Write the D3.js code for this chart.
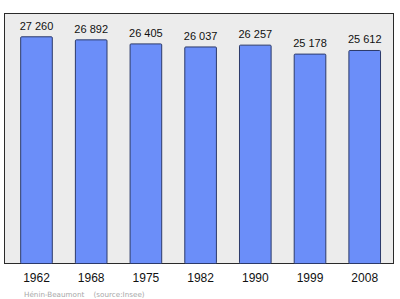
<!DOCTYPE html>
<html>
<head>
<meta charset="utf-8">
<script src="https://cdn.jsdelivr.net/npm/d3@7"></script>
<style>
  body { margin: 0; background: #fff; }
  svg { display: block; }
</style>
</head>
<body>
<div class="chart"></div>
<script>
var years = ['1962', '1968', '1975', '1982', '1990', '1999', '2008'];
var population = [27260, 26892, 26405, 26037, 26257, 25178, 25612];
var sourceText = 'Hénin-Beaumont    (source:Insee)';

var width = 400, height = 299;
var frame = {left: 4.5, top: 13.5, right: 393.5, bottom: 263.5};

var formatPop = function(v) { return d3.format(',')(v).replace(/,/g, ' '); };

var svg = d3.select('.chart').append('svg')
    .attr('width', width)
    .attr('height', height);

// plot background
svg.append('rect')
    .attr('x', frame.left)
    .attr('y', frame.top)
    .attr('width', frame.right - frame.left)
    .attr('height', frame.bottom - frame.top)
    .style('fill', '#ececec')
    .style('stroke', '#2a2a2a')
    .style('stroke-width', 1);

var x = d3.scaleBand()
    .domain(years)
    .range([-1.2, 402.4])
    .paddingInner(0.422)
    .paddingOuter(0.4);

var y = d3.scaleLinear()
    .domain([0, 30000])
    .range([frame.bottom, frame.top + 0.5]);

var bars = svg.append('g');

bars.selectAll('rect')
    .data(population)
    .enter()
    .append('rect')
    .attr('x', function(d, i) { return x(years[i]); })
    .attr('y', function(d) { return y(d); })
    .attr('width', x.bandwidth())
    .attr('height', function(d) { return frame.bottom - y(d); })
    .attr('rx', 1)
    .style('fill', '#6b8ef9')
    .style('stroke', '#2c3a6a')
    .style('stroke-width', 1);

bars.selectAll('text')
    .data(population)
    .enter()
    .append('text')
    .attr('x', function(d, i) { return x(years[i]) + x.bandwidth() / 2; })
    .attr('y', function(d) { return y(d) - 7; })
    .attr('text-anchor', 'middle')
    .style('font-family', 'Liberation Sans, Arial, sans-serif')
    .style('font-size', '11px')
    .style('fill', '#111')
    .text(function(d) { return formatPop(d); });

var xAxis = d3.axisBottom(x).tickSize(0).tickPadding(0);

var axisG = svg.append('g')
    .attr('transform', 'translate(0,' + (frame.bottom + 18.5) + ')')
    .call(xAxis);
axisG.select('.domain').remove();
axisG.selectAll('text')
    .attr('dy', 0)
    .style('font-family', 'Liberation Sans, Arial, sans-serif')
    .style('font-size', '12px')
    .style('fill', '#111');

svg.append('text')
    .attr('x', 24)
    .attr('y', 296.5)
    .style('font-family', 'DejaVu Sans, sans-serif')
    .style('font-size', '7.2px')
    .style('fill', '#a8a8a8')
    .style('white-space', 'pre')
    .text(sourceText);
</script>
</body>
</html>
